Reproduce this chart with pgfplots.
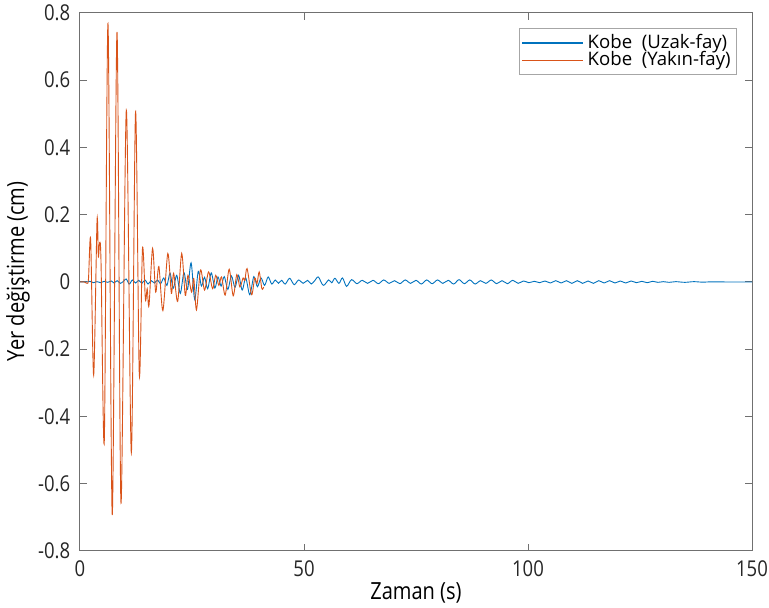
\documentclass[border=0pt]{standalone}
\usepackage{fontspec}
\setmainfont{Open Sans}[FakeStretch=0.85]
\newfontfamily\legfont{Open Sans}
\usepackage{pgfplots}
\pgfplotsset{compat=1.18}
\definecolor{mblue}{rgb}{0,0.447,0.741}
\definecolor{morange}{rgb}{0.85,0.325,0.098}
\definecolor{axgray}{HTML}{262626}
\definecolor{boxgray}{HTML}{707070}
\begin{document}
\begin{tikzpicture}
\begin{axis}[
  scale only axis, width=336pt, height=269pt,
  xmin=0, xmax=150, ymin=-0.8, ymax=0.8,
  xtick={0,50,100,150}, xticklabels={0,50,100,150},
  ytick={-0.8,-0.6,-0.4,-0.2,0,0.2,0.4,0.6,0.8},
  yticklabels={-0.8,-0.6,-0.4,-0.2,0,0.2,0.4,0.6,0.8},
  tick align=inside, major tick length=3.5pt,
  axis line style={boxgray, line width=0.5pt},
  tick style={boxgray, line width=0.5pt},
  ticklabel style={font=\fontsize{10.9}{12}\selectfont, text=axgray},
  xticklabel style={yshift=-1.5pt},
  yticklabel style={xshift=-1.4pt},
  xlabel={Zaman (s)}, ylabel={Yer değiştirme (cm)},
  label style={font=\fontsize{11.8}{13}\selectfont, text=black},
  xlabel style={at={(axis description cs:0.5,-0.078)}, anchor=center},
  ylabel style={at={(axis description cs:-0.0923,0.52)}, anchor=center},
  legend style={at={(axis description cs:1,1)}, anchor=north east, xshift=-7.5pt, yshift=-7.5pt,
    draw=gray!70, line width=0.4pt, font=\legfont\fontsize{9.3}{11}\selectfont, inner sep=1pt, row sep=-4pt},
  legend cell align=left,
]
\addplot[draw=mblue, line width=0.45pt, smooth,
  legend image code/.code={\draw[mblue, line width=0.6pt] (0pt,0pt) -- (30.5pt,0pt);}] coordinates {
(0,0) (1.5,0) (2.2,0.002) (3.0,-0.002) (3.8,0.001) (4.6,-0.002) (5.4,0.002) (6.2,-0.001)
(7.0,0.003) (7.6,-0.003) (8.3,0.004) (9.0,-0.004) (9.7,0.002) (10.3,0.009) (11.0,-0.006)
(11.7,0.006) (12.4,-0.003) (13.1,0.005) (13.8,-0.004) (14.5,0.006) (15.2,-0.006) (15.9,0.004)
(16.6,-0.003) (17.3,0.006) (18.0,-0.005) (18.7,0.012) (19.4,-0.01) (20.1,0.026) (20.8,-0.019)
(21.6,0.02) (22.4,-0.034) (23.2,0.028) (24.0,-0.022) (24.8,0.057) (25.6,-0.052) (26.4,0.032)
(27.1,-0.012) (27.8,0.014) (28.5,-0.02) (29.3,0.027) (30.1,-0.018) (30.8,0.015) (31.5,-0.012)
(32.2,0.016) (33.0,-0.022) (33.8,0.018) (34.6,-0.016) (35.4,0.02) (36.2,-0.024) (37.0,0.012)
(37.9,-0.038) (38.8,0.016) (39.6,-0.014) (40.4,0.012) (41.2,-0.01) (42.0,0.015) (42.8,-0.006)
(43.6,0.006) (44.3,-0.004) (45.0,0.005) (45.8,-0.006) (46.8,0.011) (47.8,-0.008) (48.8,0.006)
(49.8,-0.004) (50.8,0.005) (51.6,-0.006) (52.4,0.004) (53.2,0.015) (54.3,-0.01) (55.5,0.006)
(56.2,-0.002) (56.9,0.011) (57.8,-0.004) (58.6,0.012) (59.5,-0.013) (60.6,0.007) (61.8,-0.005)
(63.0,0.005) (64.2,-0.004) (65.4,0.005) (66.6,-0.005) (67.8,0.006) (69.0,-0.004) (70.2,0.004)
(71.4,-0.005) (72.6,0.006) (73.8,-0.004) (75.0,0.005) (76.2,-0.006) (77.4,0.006) (78.6,-0.005)
(79.8,0.006) (81.0,-0.004) (82.2,0.005) (83.4,-0.006) (84.6,0.007) (85.8,-0.005) (87.0,0.006)
(88.2,-0.006) (89.4,0.004) (90.6,-0.004) (91.8,0.006) (93.0,-0.005) (94.2,0.004) (95.4,-0.005)
(96.6,0.005) (97.8,-0.004) (99.0,0.003) (100.2,-0.002) (101.4,0.002) (102.6,-0.002) (103.8,0.003)
(105.0,-0.003) (106.2,0.004) (107.4,-0.003) (108.6,0.004) (109.8,-0.004) (111.0,0.004)
(112.2,-0.004) (113.4,0.003) (114.6,-0.004) (115.8,0.004) (117.0,-0.003) (118.2,0.004)
(119.4,-0.003) (120.6,0.003) (121.8,-0.003) (123.0,0.003) (124.2,-0.002) (125.4,0.002)
(126.6,-0.002) (127.8,0.002) (129.0,-0.001) (130.2,0.001) (131.5,-0.001) (133,0.001)
(135,-0.001) (137,0.001) (139,-0.0005) (141,0.0005) (145,0) (150,0)
};
\addlegendentry{Kobe\ \ (Uzak-fay)\hspace{5pt}}
\addplot[draw=morange, line width=0.45pt, smooth,
  legend image code/.code={\draw[morange, line width=0.6pt] (0pt,0pt) -- (30.5pt,0pt);}] coordinates {
(0,0) (1.0,0) (1.6,-0.004) (1.9,0.01) (2.38,0.125) (3.05,-0.277) (3.8,0.182) (4.1,0.075)
(4.4,0.118) (4.7,0.055) (5.43,-0.47) (6.25,0.769) (7.2,-0.693) (8.26,0.744) (9.15,-0.658)
(10.34,0.511) (11.46,-0.508) (12.4,0.506) (13.24,-0.277) (13.95,0.1) (14.6,-0.052) (15.0,-0.02)
(15.4,-0.07) (16.2,0.1) (16.9,-0.03) (17.6,0.046) (18.5,-0.085) (19.6,0.085) (20.4,-0.034)
(20.9,0.026) (21.8,-0.058) (22.7,0.085) (23.5,-0.04) (24.1,0.02) (24.9,-0.03) (25.4,0.01)
(26.0,-0.083) (26.9,0.036) (27.8,-0.024) (28.7,0.03) (29.6,-0.02) (30.3,0.02) (31.0,-0.01)
(31.6,0.015) (32.4,-0.039) (33.3,0.038) (34.2,-0.041) (35.0,0.022) (35.7,-0.015) (36.4,0.012)
(36.8,0.005) (37.3,0.04) (38.3,-0.038) (39.0,0.012) (39.5,-0.005) (40.0,0.03) (40.6,-0.02) (41.0,-0.015)
};
\addlegendentry{Kobe\ \ (Yakın-fay)\hspace{5pt}}
\end{axis}
\pgfresetboundingbox
\path ([xshift=-40pt,yshift=-28.5pt]current axis.south west) rectangle ([xshift=8.5pt,yshift=6.5pt]current axis.north east);
\end{tikzpicture}
\end{document}
